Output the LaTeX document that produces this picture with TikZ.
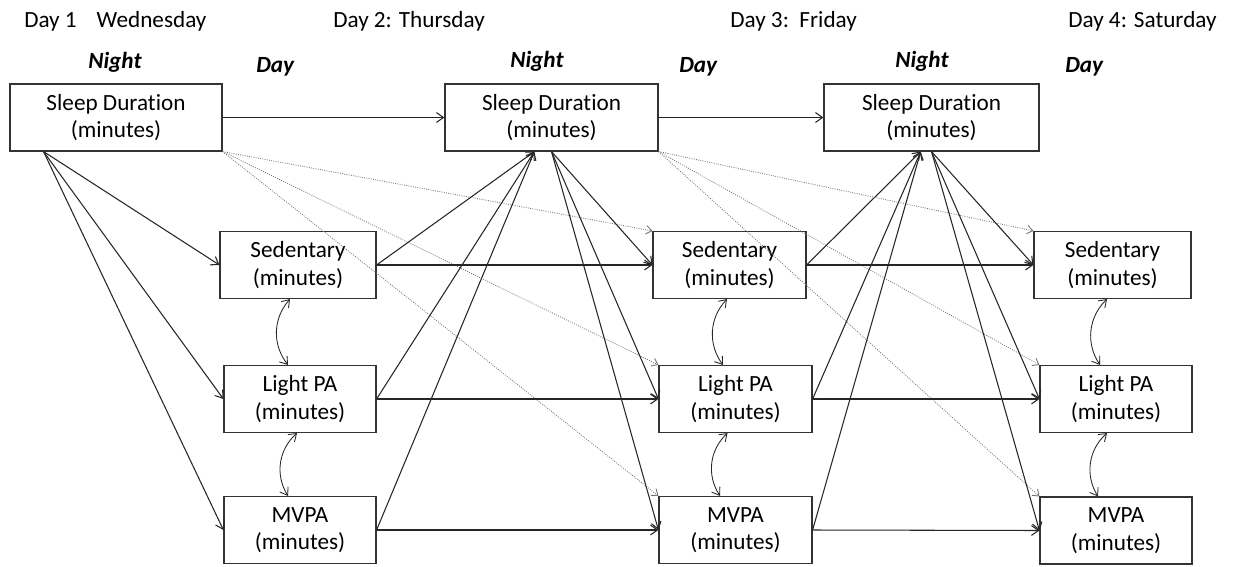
\documentclass[tikz,border=0pt]{standalone}
\usepackage{fontspec}
\setmainfont[Ligatures=CommonOff]{Carlito}
\usetikzlibrary{arrows.meta,calc}
\begin{document}
\begin{tikzpicture}[x=0.025cm,y=-0.025cm,
  box/.style={draw=black!80, line width=0.8pt, inner sep=0pt, align=center,
    minimum height=1.675cm, font=\fontsize{16.5}{19.5}\selectfont},
  arr/.style={-{Straight Barb[length=5pt,width=7pt]}, line width=0.75pt, black!85},
  dotarr/.style={-{Straight Barb[length=4pt,width=6pt]}, densely dotted, line width=0.6pt, black!55},
  bi/.style={{Straight Barb[length=5pt,width=7pt]}-{Straight Barb[length=5pt,width=7pt]}, line width=0.6pt, black!85},
  hdr/.style={anchor=base west, inner sep=0pt, font=\fontsize{16.5}{19.5}\selectfont},
  nd/.style={anchor=base west, inner sep=0pt, font=\fontsize{16.5}{19.5}\selectfont\bfseries\itshape}]
\useasboundingbox[fill=white] (0,0) rectangle (1236,566);

% headers
\node[hdr] (h1) at (24,27) {Day 1\hspace{0.5cm}Wednesday};
\node[hdr] (h2) at (333,27) {Day 2: Thursday};
\node[hdr] (h3) at (730,27) {Day 3:~~Friday};
\node[hdr] (h4) at (1068,27) {Day 4: Saturday};
\node[nd] (n1) at (88,68) {Night};
\node[nd] (d1) at (256,72) {Day};
\node[nd] (n2) at (510,67) {Night};
\node[nd] (d2) at (679,72) {Day};
\node[nd] (n3) at (895,67) {Night};
\node[nd] (d3) at (1065,72) {Day};

% boxes
\node[box,minimum width=5.3cm] (S1) at (116,117.5) {Sleep Duration\\(minutes)};
\node[box,minimum width=5.325cm] (S2) at (551.5,117.5) {Sleep Duration\\(minutes)};
\node[box,minimum width=5.375cm] (S3) at (931.5,117.5) {Sleep Duration\\(minutes)};

\node[box,minimum width=3.9cm] (Sed1) at (298,265) {Sedentary\\(minutes)};
\node[box,minimum width=3.8cm] (L1) at (300,399) {Light PA\\(minutes)};
\node[box,minimum width=3.8cm] (M1) at (300,530) {MVPA\\(minutes)};

\node[box,minimum width=3.825cm] (Sed2) at (729.5,265) {Sedentary\\(minutes)};
\node[box,minimum width=3.825cm] (L2) at (735.5,399) {Light PA\\(minutes)};
\node[box,minimum width=3.825cm] (M2) at (735.5,530) {MVPA\\(minutes)};

\node[box,minimum width=3.925cm] (Sed3) at (1112.5,265) {Sedentary\\(minutes)};
\node[box,minimum width=3.8cm] (L3) at (1116,399) {Light PA\\(minutes)};
\node[box,minimum width=3.8cm] (M3) at (1116,530.5) {MVPA\\(minutes)};

% anchor points on sleep boxes
\coordinate (S1o) at ($(S1.south west)!0.16!(S1.south east)$);
\coordinate (S2i) at ($(S2.south west)!0.42!(S2.south east)$);
\coordinate (S2o) at (S2.south);
\coordinate (S3i) at ($(S3.south west)!0.45!(S3.south east)$);
\coordinate (S3o) at (S3.south);

% sleep to sleep
\draw[arr] (S1.east) -- (S2.west);
\draw[arr] (S2.east) -- (S3.west);

% dotted lagged
\foreach \t in {Sed2,L2,M2} \draw[dotarr] (S1.south east) -- (\t.north west);
\foreach \t in {Sed3,L3,M3} \draw[dotarr] (S2.south east) -- (\t.north west);

% sleep to next day activity
\foreach \t in {Sed1,L1,M1} \draw[arr] (S1o) -- (\t.west);
\foreach \t in {Sed2,L2,M2} \draw[arr] (S2o) -- (\t.west);
\foreach \t in {Sed3,L3,M3} \draw[arr] (S3o) -- (\t.west);

% activity to next sleep
\foreach \s in {Sed1,L1,M1} \draw[arr] (\s.east) -- (S2i);
\foreach \s in {Sed2,L2,M2} \draw[arr] (\s.east) -- (S3i);

% activity to activity
\draw[arr] (Sed1.east) -- (Sed2.west);
\draw[arr] (L1.east) -- (L2.west);
\draw[arr] (M1.east) -- (M2.west);
\draw[arr] (Sed2.east) -- (Sed3.west);
\draw[arr] (L2.east) -- (L3.west);
\draw[arr] (M2.east) -- (M3.west);

% correlations
\draw[bi] ($(Sed1.south)+(-8,0)$) to[bend right=40] ($(L1.north)+(-12,0)$);
\draw[bi] ($(L1.south)+(-3,0)$) to[bend right=40] ($(M1.north)+(-12,0)$);
\draw[bi] ($(Sed2.south)+(-2.5,0)$) to[bend right=40] ($(L2.north)+(-12.5,0)$);
\draw[bi] ($(L2.south)+(-8,0)$) to[bend right=40] ($(M2.north)+(-15.5,0)$);
\draw[bi] ($(Sed3.south)+(-5.5,0)$) to[bend right=40] ($(L3.north)+(-16,0)$);
\draw[bi] ($(L3.south)+(-9,0)$) to[bend right=40] ($(M3.north)+(-18,0)$);
\end{tikzpicture}
\end{document}
